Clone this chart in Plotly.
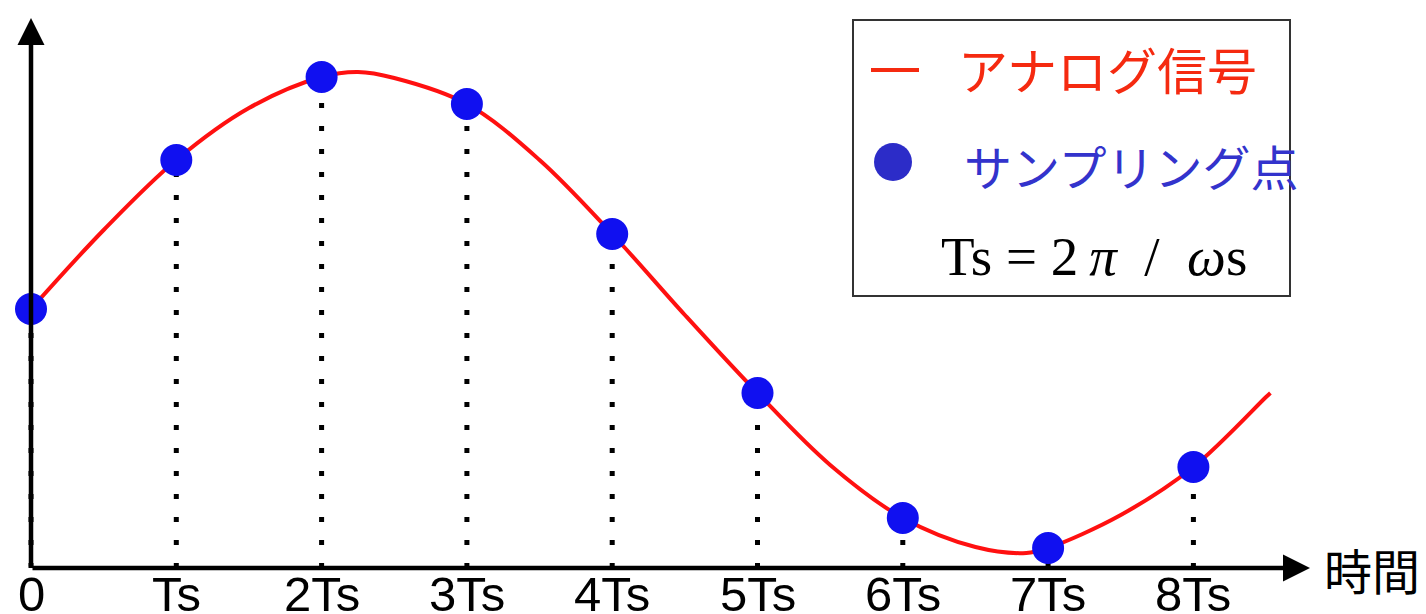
import plotly.graph_objects as go

# ---- data ----
sample_t = [0, 1, 2, 3, 4, 5, 6, 7, 8]
sample_v = [2.59, 4.08, 4.91, 4.64, 3.34, 1.75, 0.50, 0.20, 1.01]
tick_labels = ["0", "Ts", "2Ts", "3Ts", "4Ts", "5Ts", "6Ts", "7Ts", "8Ts"]

curve_t = [0, 0.5, 1, 1.5, 2, 2.25, 2.5, 3, 3.5, 4, 4.5, 5, 5.5, 6, 6.5, 6.85, 7, 7.5, 8, 8.5, 8.53]
curve_v = [2.59, 3.38, 4.08, 4.60, 4.91, 4.96, 4.90, 4.64, 4.08, 3.34, 2.53, 1.75, 1.03, 0.50, 0.21, 0.15, 0.20, 0.53, 1.01, 1.71, 1.75]

legend_labels = ["アナログ信号", "サンプリング点"]
formula_text = "Ts\u00a0=\u00a02\u2009<i>π</i>\u00a0\u00a0/\u00a0\u00a0<i>ω</i>s"
x_axis_title = "時間"

OFF = 8                # page body margin
W, H = 1426 - OFF, 614 - OFF
X0, DX = 31 - OFF, 145.3     # pixel of t=0, pixels per Ts
Y0, DY = 568 - OFF, 100.0    # pixel of v=0, pixels per unit

def px(p):
    return (p - OFF) / W

def py(p):
    return 1 - (p - OFF) / H

def dx(p):
    return (p - OFF - X0) / DX

def dy(p):
    return (Y0 - (p - OFF)) / DY

fig = go.Figure()

# dotted guide lines
for t, v in zip(sample_t, sample_v):
    fig.add_trace(go.Scatter(
        x=[t, t], y=[0, v], mode="lines",
        line=dict(color="black", width=5, dash="5px,18px"),
        hoverinfo="skip", showlegend=False, cliponaxis=False))

# analog signal
fig.add_trace(go.Scatter(
    x=curve_t, y=curve_v, mode="lines",
    line=dict(color="#ff1010", width=4, shape="spline", smoothing=1.0),
    name=legend_labels[0], showlegend=False, cliponaxis=False))

# sampling points
fig.add_trace(go.Scatter(
    x=sample_t, y=sample_v, mode="markers",
    marker=dict(color="#1010f0", size=32),
    name=legend_labels[1], showlegend=False, cliponaxis=False))

annotations = []
# axes arrows
annotations.append(dict(x=dx(1310), y=0, ax=0, ay=0, xref="x", yref="y",
                        axref="x", ayref="y", text="", showarrow=True,
                        arrowhead=2, arrowsize=1.2, arrowwidth=4.5, arrowcolor="black", standoff=0))
annotations.append(dict(x=0, y=dy(18), ax=0, ay=0, xref="x", yref="y",
                        axref="x", ayref="y", text="", showarrow=True,
                        arrowhead=2, arrowsize=1.2, arrowwidth=4.5, arrowcolor="black", standoff=0))
# tick labels
for t, lab in zip(sample_t, tick_labels):
    annotations.append(dict(x=t, y=dy(594), xref="x", yref="y", text=lab,
                            showarrow=False, xanchor="center", yanchor="middle",
                            font=dict(family="Liberation Sans, Arial", size=49, color="black")))
# axis title
annotations.append(dict(x=px(1322), y=py(569), xref="paper", yref="paper", text=x_axis_title,
                        showarrow=False, xanchor="left", yanchor="middle",
                        font=dict(family="Noto Sans CJK JP", size=48, color="black")))
# legend texts
annotations.append(dict(x=px(956), y=py(68), xref="paper", yref="paper", text=legend_labels[0],
                        showarrow=False, xanchor="left", yanchor="middle",
                        font=dict(family="Noto Sans CJK JP", size=50, color="#f52a10")))
annotations.append(dict(x=px(962), y=py(165), xref="paper", yref="paper", text=legend_labels[1],
                        showarrow=False, xanchor="left", yanchor="middle",
                        font=dict(family="Noto Sans CJK JP", size=48, color="#3333cc")))
annotations.append(dict(x=px(1094), y=py(257), xref="paper", yref="paper", text=formula_text,
                        showarrow=False, xanchor="center", yanchor="middle",
                        font=dict(family="Liberation Serif, Times New Roman", size=55, color="black")))

shapes = [
    dict(type="rect", xref="paper", yref="paper", x0=px(853), x1=px(1290), y0=py(20), y1=py(296),
         line=dict(color="#333333", width=2), fillcolor="white", layer="below"),
    dict(type="line", xref="paper", yref="paper", x0=px(871), x1=px(919), y0=py(70), y1=py(70),
         line=dict(color="#f52a10", width=4)),
    dict(type="circle", xref="paper", yref="paper", x0=px(874), x1=px(912), y0=py(143), y1=py(181),
         line=dict(color="#2c2cc8", width=0), fillcolor="#2c2cc8"),
]

fig.update_layout(
    width=W, height=H,
    margin=dict(l=0, r=0, t=0, b=0),
    paper_bgcolor="white", plot_bgcolor="white",
    xaxis=dict(range=[-X0 / DX, (W - X0) / DX], visible=False, fixedrange=True),
    yaxis=dict(range=[(Y0 - H) / DY, Y0 / DY], visible=False, fixedrange=True),
    annotations=annotations, shapes=shapes,
    showlegend=False,
)

fig.write_html("out.html")
